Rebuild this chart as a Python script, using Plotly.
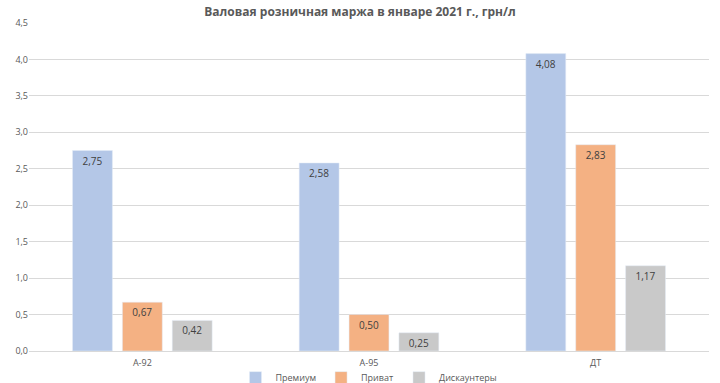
import plotly.graph_objects as go

categories = ["A-92", "A-95", "ДТ"]
series_names = ["Премиум", "Приват", "Дискаунтеры"]
premium = [2.75, 2.58, 4.08]
privat = [0.67, 0.50, 2.83]
discount = [0.42, 0.25, 1.17]
colors = ["#B4C7E7", "#F4B183", "#C9C9C9"]
y_ticks = [0, 0.5, 1.0, 1.5, 2.0, 2.5, 3.0, 3.5, 4.0, 4.5]

fig = go.Figure()
for name, vals, col in zip(series_names, [premium, privat, discount], colors):
    fig.add_trace(go.Bar(
        x=categories, y=vals, name=name, marker_color=col,
        texttemplate="%{y:.2f}", textposition="inside", insidetextanchor="end",
        constraintext="none",
        textfont=dict(size=10, color="#404040", family="Open Sans"),
        textangle=0,
    ))

fig.update_layout(
    width=720, height=383,
    margin=dict(l=29, r=11, t=23, b=32, autoexpand=False),
    paper_bgcolor="white", plot_bgcolor="white",
    separators=", ",
    barmode="group", bargap=0.34, bargroupgap=0.2,
    title=dict(text="<b>Валовая розничная маржа в январе 2021 г., грн/л</b>",
               x=0.5, xanchor="center", y=0.968, yanchor="middle",
               font=dict(size=12, color="#595959", family="Open Sans")),
    font=dict(family="Open Sans", size=10, color="#595959"),
    yaxis=dict(range=[0, 4.5], tickvals=y_ticks, tickformat=".1f",
               gridcolor="#D9D9D9", zeroline=False, showline=False,
               tickfont=dict(size=9, color="#595959"), ticks="", ticklen=0),
    xaxis=dict(showline=True, linecolor="#D9D9D9", linewidth=1,
               ticks="outside", ticklen=3, tickcolor="rgba(0,0,0,0)",
               tickfont=dict(size=9, color="#595959")),
    legend=dict(orientation="h", x=0.5, xanchor="center",
                yref="container", y=0.014, yanchor="middle",
                bgcolor="rgba(0,0,0,0)",
                font=dict(size=9, color="#595959"), itemwidth=30,
                tracegroupgap=0),
    showlegend=True,
)
fig.write_html("out.html")
